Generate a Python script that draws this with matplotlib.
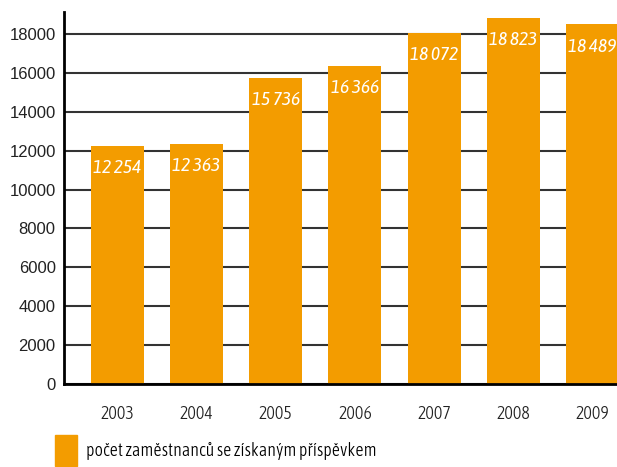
import matplotlib
matplotlib.use("Agg")
import matplotlib.pyplot as plt
from matplotlib.patches import Patch

years = ["2003", "2004", "2005", "2006", "2007", "2008", "2009"]
values = [12254, 12363, 15736, 16366, 18072, 18823, 18489]
value_labels = ["12 254", "12 363", "15 736", "16 366", "18 072", "18 823", "18 489"]
yticks = [0, 2000, 4000, 6000, 8000, 10000, 12000, 14000, 16000, 18000]
legend_label = "počet zaměstnanců se získaným příspěvkem"

narrow = ["Asap Condensed", "DejaVu Sans"]
color = "#F39C00"
fig = plt.figure(figsize=(6.17, 4.67), dpi=100)
ax = fig.add_axes([64/617, 1-384/467, 1-64/617, (384-12)/467])

x = list(range(len(years)))
bars = ax.bar(x, values, width=0.67, color=color, zorder=3)
ax.set_xlim(-0.675, 6.31)
ax.set_ylim(0, 19130)
ax.set_yticks(yticks)
ax.set_yticklabels([str(v) for v in yticks], fontfamily="Liberation Sans", fontsize=12, color="#222222")
ax.set_xticks(x)
ax.set_xticklabels(years, fontfamily=narrow, fontsize=13, fontweight=300, color="#222222")
ax.tick_params(axis="y", length=0, pad=6)
ax.tick_params(axis="x", length=0, pad=15)
ax.grid(axis="y", color="#333333", linewidth=1.5, zorder=1)
for s in ["top", "right"]:
    ax.spines[s].set_visible(False)
ax.spines["left"].set_linewidth(2)
ax.spines["bottom"].set_linewidth(2)
ax.spines["left"].set_zorder(4)
ax.spines["bottom"].set_zorder(4)

for xi, v, lab in zip(x, values, value_labels):
    ax.annotate(lab, (xi, v), xytext=(0, -16), textcoords="offset points",
                ha="center", va="center", color="white", fontstyle="italic",
                fontfamily=narrow, fontsize=14, zorder=5)

fig.legend(handles=[Patch(color=color)], labels=[legend_label], loc="upper left",
           bbox_to_anchor=(55/617, 1-435/467), frameon=False, borderpad=0, borderaxespad=0,
           handlelength=1.2, handleheight=2.3, handletextpad=0.5,
           prop={"family": narrow, "size": 13, "weight": 300})

fig.savefig("out.png", dpi=100)
